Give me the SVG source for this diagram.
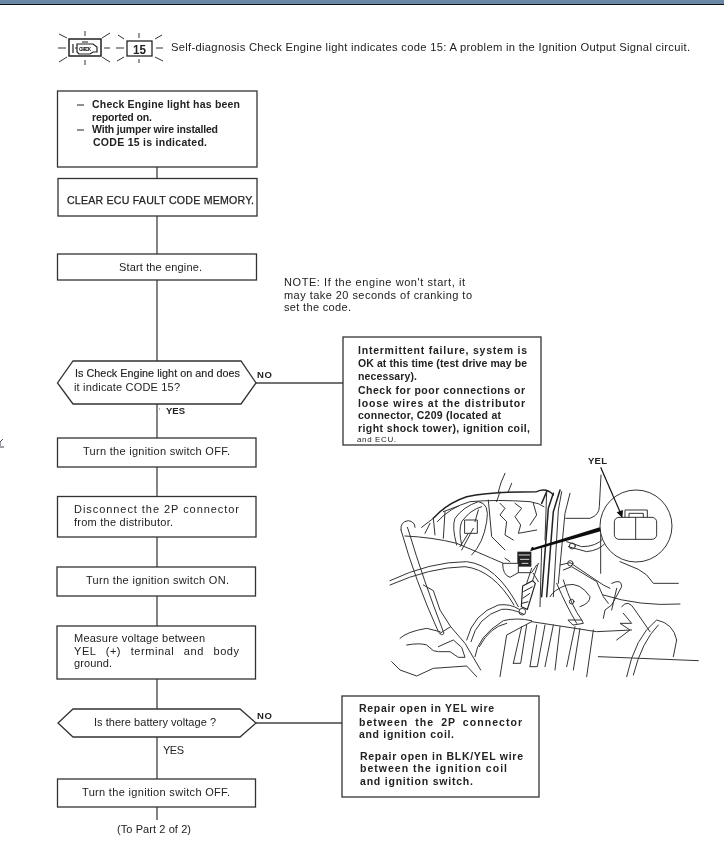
<svg xmlns="http://www.w3.org/2000/svg" width="724" height="855" viewBox="0 0 724 855">
<defs>
<style>
text{font-family:"Liberation Sans",Arial,sans-serif;font-size:11px;fill:#222}
.b{font-weight:700;font-size:10.5px}
.s{font-weight:700;font-size:9.5px}
.box{fill:#fff;stroke:#333;stroke-width:1.3}
.con{fill:none;stroke:#444;stroke-width:1.3}
.ray{fill:none;stroke:#333;stroke-width:1}
.art{fill:none;stroke:#333;stroke-width:3;stroke-linecap:round;stroke-linejoin:round}
.art2{fill:none;stroke:#222;stroke-width:4.5;stroke-linecap:round;stroke-linejoin:round}
</style>
<filter id="soft" x="0" y="0" width="100%" height="100%"><feGaussianBlur stdDeviation="0.35"/></filter>
</defs>
<rect width="724" height="855" fill="#fff"/>
<rect width="724" height="4" fill="#6b88a6"/>
<rect y="4" width="724" height="1" fill="#111"/>
<g filter="url(#soft)">
<path d="M0 446 V442 L3 439 M0 447 H4" fill="none" stroke="#445" stroke-width="1"/>

<g id="connectors">
<path class="con" d="M157 167V178M157 216V254M157 280V361M157 404V438M157 467V497M157 537V567M157 596V626M157 679V709M157 737V779M157 807V820"/>
<path class="con" d="M256 383H343M256 723H342"/>
</g>

<g id="header">
<g id="icon-check">
<rect x="69" y="39" width="32" height="17" fill="#fff" stroke="#222" stroke-width="1.5"/>
<path class="ray" d="M85 31V36M85 60V65M58 48H66M104 48H110M59 34L67 38M110 33L102 38M59 62L67 57M110 62L102 57"/>
<path d="M73 44V53M75 48H77M77 44H93L97 47V52H93L90 54H79L77 52ZM82 42H88" fill="none" stroke="#222" stroke-width="1.2"/>
<text x="79" y="50.5" style="font-size:5px;font-weight:700" textLength="12">CHECK</text>
</g>
<g id="icon-15">
<rect x="127" y="41" width="25" height="15" fill="#fff" stroke="#222" stroke-width="1.3"/>
<path class="ray" d="M139 33V38M139 59V63M116 48H124M156 48H163M118 35L124 39M162 35L155 39M117 61L124 57M163 61L155 57"/>
<text x="133" y="54" style="font-size:13px;font-weight:700" textLength="13" lengthAdjust="spacingAndGlyphs">15</text>
</g>
<text x="171" y="51" style="font-size:11.2px" textLength="519">Self-diagnosis Check Engine light indicates code 15: A problem in the Ignition Output Signal circuit.</text>
</g>

<g id="n-reported">
<rect class="box" x="57.5" y="91" width="199.5" height="76"/>
<path d="M77 105H84M77 130H84" stroke="#222" stroke-width="1.2"/>
<text class="b" x="92" y="108" textLength="148">Check Engine light has been</text>
<text class="b" x="92" y="121" textLength="60">reported on.</text>
<text class="b" x="92" y="133" textLength="126">With jumper wire installed</text>
<text class="b" x="93" y="146" textLength="114">CODE 15 is indicated.</text>
</g>
<g id="n-clear">
<rect class="box" x="58" y="178.5" width="199" height="37.5"/>
<text x="67" y="204" style="font-size:10.6px;stroke:#222;stroke-width:.25" textLength="187">CLEAR ECU FAULT CODE MEMORY.</text>
</g>
<g id="n-start">
<rect class="box" x="57.5" y="254" width="199" height="26"/>
<text x="119" y="271" textLength="83">Start the engine.</text>
</g>
<g id="n-note">
<text x="284" y="286" textLength="181">NOTE:  If the engine won't start, it</text>
<text x="284" y="299" textLength="188">may take 20 seconds of cranking to</text>
<text x="284" y="311" textLength="67">set the code.</text>
</g>
<g id="n-d1">
<path class="box" d="M73 361H241L256 383L241 404H73L57.5 383Z"/>
<text x="75" y="377" style="font-size:10.8px;stroke:#222;stroke-width:.15" textLength="165">Is Check Engine light on and does</text>
<text x="74" y="390.5" textLength="106">it indicate CODE 15?</text>
<text x="257" y="378" class="s" textLength="15">NO</text>
<text x="166" y="414" class="s" textLength="19">YES</text>
<rect x="159" y="408.5" width="1" height="1" fill="#777"/>
</g>
<g id="n-intermittent">
<rect class="box" x="343" y="337" width="198" height="108"/>
<text class="b" x="358" y="354" textLength="169">Intermittent failure, system is</text>
<text class="b" x="358" y="367" textLength="169">OK at this time (test drive may be</text>
<text class="b" x="358" y="379.5" textLength="59">necessary).</text>
<text class="b" x="358" y="394" textLength="167">Check for poor connections or</text>
<text class="b" x="358" y="407" textLength="167">loose wires at the distributor</text>
<text class="b" x="358" y="419" textLength="143">connector, C209 (located at</text>
<text class="b" x="358" y="432" textLength="172">right shock tower), ignition coil,</text>
<text x="357" y="442" style="font-size:8px" textLength="39">and ECU.</text>
</g>
<g id="n-off1">
<rect class="box" x="57.5" y="438" width="198.5" height="29"/>
<text x="83" y="455" textLength="147">Turn the ignition switch OFF.</text>
</g>
<g id="n-disconnect">
<rect class="box" x="57.5" y="496.5" width="198.5" height="40.5"/>
<text x="74" y="513" textLength="165">Disconnect the 2P connector</text>
<text x="74" y="526" textLength="99">from the distributor.</text>
</g>
<g id="n-on">
<rect class="box" x="57" y="567" width="198.5" height="29"/>
<text x="86" y="584" textLength="143">Turn the ignition switch ON.</text>
</g>
<g id="n-measure">
<rect class="box" x="57" y="626" width="198.5" height="53"/>
<text x="74" y="642" textLength="131">Measure voltage between</text>
<text x="74" y="655" textLength="165" style="word-spacing:6px">YEL (+) terminal and body</text>
<text x="74" y="667" textLength="38">ground.</text>
</g>
<g id="n-d2">
<path class="box" d="M73 709H240L256 723L240 737H73L58 723Z"/>
<text x="94" y="726" textLength="122">Is there battery voltage ?</text>
<text x="257" y="719" class="s" textLength="15">NO</text>
<text x="163" y="754" textLength="21">YES</text>
</g>
<g id="n-off2">
<rect class="box" x="57.5" y="779" width="198" height="28"/>
<text x="82" y="796" textLength="148">Turn the ignition switch OFF.</text>
</g>
<text id="to-part" x="117" y="833" textLength="74">(To Part 2 of 2)</text>
<g id="n-repair">
<rect class="box" x="342" y="696" width="197" height="101"/>
<text class="b" x="359" y="712" textLength="135">Repair open in YEL wire</text>
<text class="b" x="359" y="726" textLength="163" style="word-spacing:3px">between the 2P connector</text>
<text class="b" x="359" y="738" textLength="95">and ignition coil.</text>
<text class="b" x="360" y="760" textLength="163">Repair open in BLK/YEL wire</text>
<text class="b" x="360" y="772" textLength="147">between the ignition coil</text>
<text class="b" x="360" y="785" textLength="113">and ignition switch.</text>
</g>

<g id="engine-illustration" transform="translate(390 450) scale(.33333)">
<path class="art" d="M345 70Q332 95 325 125M365 100L355 125"/>
<path class="art2" d="M130 205Q170 160 230 140Q300 125 440 125Q470 112 490 135"/>
<path class="art" d="M95 232L130 205M142 215Q180 172 240 155Q320 148 420 155Q450 160 462 170M160 185L205 168"/>
<path class="art" d="M33 240Q30 215 55 212Q75 215 75 232M33 240Q75 390 145 545Q155 560 162 550Q100 390 55 240L52 232"/>
<path class="art" d="M45 258Q130 262 200 280Q260 305 340 340"/>
<path class="art" d="M0 392Q120 335 230 335Q320 345 385 470M0 405Q120 352 225 350Q310 360 372 465"/>
<path class="art" d="M200 285Q185 230 195 205Q220 170 265 155Q300 160 290 215Q280 280 245 315M215 285Q205 240 215 215Q240 180 275 170M225 210H262V250H225ZM235 250L210 290M250 235L215 300M265 180L255 215"/>
<path class="art" d="M130 205L135 255M165 185L160 265M120 220L105 250M295 150L305 260L345 300"/>
<path class="art" d="M330 160L345 175L330 195L350 215L345 255L370 270M375 160L395 175L375 200L392 225L385 250L440 240M430 160L440 195L420 225M330 125L320 155"/>
<path class="art2" d="M455 160L470 125M490 130L475 175L455 440M510 120L490 185L470 440"/>
<path class="art" d="M515 125L505 180L490 440M540 130L525 190L505 400M470 125L465 270M455 290L450 470"/>
<rect x="382" y="305" width="42" height="45" fill="#222"/>
<path d="M386 315H420M390 328H418M395 340H415" stroke="#fff" stroke-width="2.5" fill="none"/>
<path d="M338 340H385V368L360 382Q338 375 338 340Z" fill="#fff" stroke="#333" stroke-width="3"/>
<path class="art" d="M345 325L360 335M385 368H425L440 345"/>
<path class="art" d="M425 355L410 400M445 340L425 400M430 370L445 395"/>
<path d="M398 408L428 392L436 400L412 478L394 470Z" fill="#fff" stroke="#222" stroke-width="3.5"/>
<path d="M400 425L428 410M398 445L420 430M396 460L415 455" stroke="#222" stroke-width="3" fill="none"/>
<circle cx="397" cy="485" r="10" fill="#fff" stroke="#333" stroke-width="3"/>
<path class="art" d="M230 570Q250 490 325 465Q360 460 388 478M243 575Q262 500 335 478Q365 475 400 492"/>
<path class="art" d="M255 620Q262 560 340 512Q380 502 425 512M268 590Q300 530 350 520"/>
<path class="art" d="M100 405L130 422L150 480L182 530L225 580L272 660M150 550L182 530"/>
<path class="art" d="M30 565Q50 545 110 535L150 545M50 585Q90 578 110 585L130 602L145 605M145 590L190 570L215 592L225 622H205L180 605L148 605"/>
<path class="art" d="M5 635L30 660L80 678L130 655L230 648L260 680"/>
<path class="art" d="M425 515L620 545L725 540M425 515L350 555L330 680"/>
<path class="art" d="M370 640L395 530M370 640H392L410 525M420 650L440 525M420 650H442L465 525M465 650L490 525M495 660L510 530M530 650L555 530M550 660L570 535M590 680L610 540M625 620L925 632"/>
<path class="art" d="M480 440Q490 420 530 405Q570 395 600 440Q600 460 570 470M500 400Q530 470 560 520M520 390Q545 470 575 510M535 510H575L580 520L550 525Z"/>
<circle cx="545" cy="455" r="7" class="art"/>
<path class="art" d="M510 345L540 338L640 405L660 415M520 360L545 350L620 395L640 440L655 460"/>
<circle cx="541" cy="340" r="8" class="art"/>
<path class="art" d="M530 275L575 290Q620 290 640 265M535 290L590 305Q630 300 645 280M632 240V370"/>
<circle cx="547" cy="288" r="9" class="art"/>
<path class="art" d="M527 205H600Q628 195 628 170L633 75"/>
<path class="art" d="M665 400Q695 385 695 410L665 465L645 480L640 505M680 415L665 480"/>
<path class="art" d="M640 435Q750 470 870 462M690 335L745 358L770 375L790 400H865"/>
<path class="art" d="M695 470Q715 445 735 480L780 545M700 490L725 520H690L720 540L680 570"/>
<path class="art" d="M710 680Q735 560 800 510Q850 520 860 570L850 620M730 675Q755 575 805 525"/>
<circle cx="738" cy="228" r="108" fill="#fff" stroke="#333" stroke-width="3"/>
<path class="art" d="M705 202V180H772V202M717 202V190H760V202M737 202V268"/>
<rect x="673" y="202" width="127" height="66" rx="14" fill="none" stroke="#333" stroke-width="3"/>
<path d="M629 232L632 244L432 300L420 304L426 290L432 293Z" fill="#111"/>
<path d="M632 52L692 190" stroke="#111" stroke-width="3.5" fill="none"/>
<path d="M697 204L680 187L699 180Z" fill="#111"/>
</g>
<text id="yel-label" x="588" y="464" class="s" textLength="19">YEL</text>
</g>
</svg>
